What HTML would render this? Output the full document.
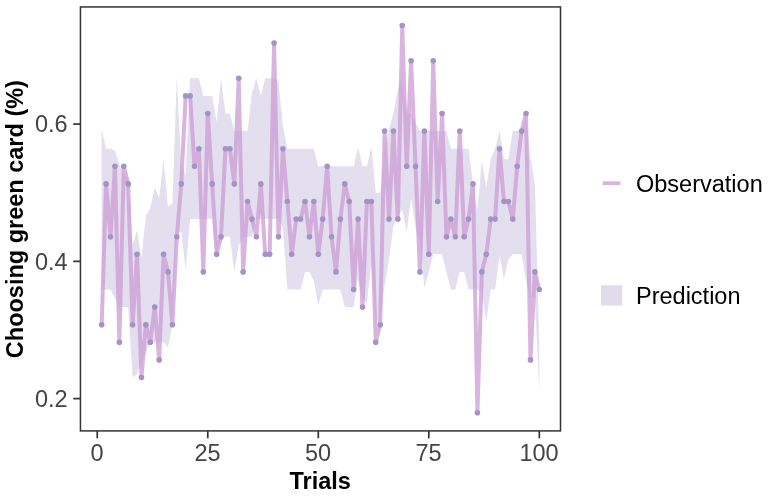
<!DOCTYPE html>
<html><head><meta charset="utf-8"><style>
html,body{margin:0;padding:0;background:#fff;}
svg{display:block;}
text{font-family:"Liberation Sans",Arial,sans-serif;}
</style></head><body>
<svg width="768" height="496" viewBox="0 0 768 496">
<rect width="768" height="496" fill="#fff"/>
<path d="M101.67,129.34 L106.09,148.70 L110.51,148.70 L114.93,150.46 L119.35,164.54 L123.77,173.34 L128.19,180.38 L132.61,245.50 L137.04,229.66 L141.46,257.82 L145.88,215.58 L150.30,208.54 L154.72,187.42 L159.14,197.98 L163.56,159.26 L167.98,206.78 L172.40,203.26 L176.82,76.54 L181.24,166.30 L185.66,175.10 L190.08,78.30 L194.50,78.30 L198.92,78.30 L203.34,95.90 L207.77,95.90 L212.19,95.90 L216.61,122.30 L221.03,78.30 L225.45,113.50 L229.87,113.50 L234.29,131.10 L238.71,131.10 L243.13,131.10 L247.55,131.10 L251.97,92.38 L256.39,78.30 L260.81,95.90 L265.23,78.30 L269.65,78.30 L274.07,78.30 L278.49,81.82 L282.92,125.82 L287.34,148.70 L291.76,148.70 L296.18,148.70 L300.60,148.70 L305.02,148.70 L309.44,148.70 L313.86,148.70 L318.28,166.30 L322.70,166.30 L327.12,166.30 L331.54,166.30 L335.96,166.30 L340.38,166.30 L344.80,166.30 L349.22,166.30 L353.64,166.30 L358.07,146.94 L362.49,166.30 L366.91,166.30 L371.33,146.94 L375.75,192.70 L380.17,192.70 L384.59,148.70 L389.01,129.34 L393.43,113.50 L397.85,88.86 L402.27,78.30 L406.69,113.50 L411.11,113.50 L415.53,122.30 L419.95,131.10 L424.37,131.10 L428.80,131.10 L433.22,131.10 L437.64,131.10 L442.06,131.10 L446.48,131.10 L450.90,148.70 L455.32,148.70 L459.74,148.70 L464.16,148.70 L468.58,148.70 L473.00,183.90 L477.42,210.30 L481.84,161.02 L486.26,187.42 L490.68,159.26 L495.10,148.70 L499.52,131.10 L503.95,159.26 L508.37,159.26 L512.79,131.10 L517.21,131.10 L521.63,131.10 L526.05,117.02 L530.47,157.50 L534.89,183.90 L539.31,342.30 L539.31,393.34 L534.89,298.30 L530.47,298.30 L526.05,280.70 L521.63,254.30 L517.21,254.30 L512.79,254.30 L508.37,259.58 L503.95,278.94 L499.52,256.06 L495.10,289.50 L490.68,289.50 L486.26,321.18 L481.84,293.02 L477.42,289.50 L473.00,289.50 L468.58,289.50 L464.16,271.90 L459.74,271.90 L455.32,289.50 L450.90,289.50 L446.48,271.90 L442.06,254.30 L437.64,254.30 L433.22,254.30 L428.80,271.90 L424.37,287.74 L419.95,243.74 L415.53,227.90 L411.11,197.98 L406.69,231.42 L402.27,210.30 L397.85,215.58 L393.43,226.14 L389.01,259.58 L384.59,285.98 L380.17,321.18 L375.75,321.18 L371.33,263.10 L366.91,303.58 L362.49,298.30 L358.07,278.94 L353.64,307.10 L349.22,307.10 L344.80,307.10 L340.38,289.50 L335.96,289.50 L331.54,289.50 L327.12,289.50 L322.70,289.50 L318.28,305.34 L313.86,280.70 L309.44,271.90 L305.02,271.90 L300.60,289.50 L296.18,289.50 L291.76,289.50 L287.34,289.50 L282.92,227.90 L278.49,219.10 L274.07,219.10 L269.65,219.10 L265.23,219.10 L260.81,219.10 L256.39,219.10 L251.97,236.70 L247.55,236.70 L243.13,236.70 L238.71,245.50 L234.29,271.90 L229.87,236.70 L225.45,236.70 L221.03,236.70 L216.61,254.30 L212.19,219.10 L207.77,219.10 L203.34,219.10 L198.92,219.10 L194.50,219.10 L190.08,219.10 L185.66,270.14 L181.24,231.42 L176.82,233.18 L172.40,324.70 L167.98,347.58 L163.56,342.30 L159.14,342.30 L154.72,342.30 L150.30,342.30 L145.88,352.86 L141.46,363.42 L137.04,373.98 L132.61,377.50 L128.19,307.10 L123.77,307.10 L119.35,307.10 L114.93,298.30 L110.51,289.50 L106.09,289.50 L101.67,289.50 Z" fill="#E3DFEF" stroke="none"/>
<path d="M101.67,324.70 L106.09,183.90 L110.51,236.70 L114.93,166.30 L119.35,342.30 L123.77,166.30 L128.19,183.90 L132.61,324.70 L137.04,254.30 L141.46,377.50 L145.88,324.70 L150.30,342.30 L154.72,307.10 L159.14,359.90 L163.56,254.30 L167.98,271.90 L172.40,324.70 L176.82,236.70 L181.24,183.90 L185.66,95.90 L190.08,95.90 L194.50,166.30 L198.92,148.70 L203.34,271.90 L207.77,113.50 L212.19,183.90 L216.61,254.30 L221.03,236.70 L225.45,148.70 L229.87,148.70 L234.29,183.90 L238.71,78.30 L243.13,271.90 L247.55,201.50 L251.97,219.10 L256.39,236.70 L260.81,183.90 L265.23,254.30 L269.65,254.30 L274.07,43.10 L278.49,236.70 L282.92,148.70 L287.34,201.50 L291.76,254.30 L296.18,219.10 L300.60,219.10 L305.02,201.50 L309.44,236.70 L313.86,201.50 L318.28,254.30 L322.70,219.10 L327.12,166.30 L331.54,236.70 L335.96,271.90 L340.38,219.10 L344.80,183.90 L349.22,201.50 L353.64,289.50 L358.07,219.10 L362.49,307.10 L366.91,201.50 L371.33,201.50 L375.75,342.30 L380.17,324.70 L384.59,131.10 L389.01,219.10 L393.43,131.10 L397.85,219.10 L402.27,25.50 L406.69,166.30 L411.11,60.70 L415.53,166.30 L419.95,271.90 L424.37,131.10 L428.80,254.30 L433.22,60.70 L437.64,201.50 L442.06,113.50 L446.48,236.70 L450.90,219.10 L455.32,236.70 L459.74,131.10 L464.16,236.70 L468.58,219.10 L473.00,183.90 L477.42,412.70 L481.84,271.90 L486.26,254.30 L490.68,219.10 L495.10,219.10 L499.52,148.70 L503.95,201.50 L508.37,201.50 L512.79,219.10 L517.21,166.30 L521.63,131.10 L526.05,113.50 L530.47,359.90 L534.89,271.90 L539.31,289.50" fill="none" stroke="#CC9BD3" stroke-opacity="0.75" stroke-width="4" stroke-linejoin="round" stroke-linecap="butt"/>
<g fill="#A493C5"><circle cx="101.67" cy="324.70" r="2.8"/><circle cx="106.09" cy="183.90" r="2.8"/><circle cx="110.51" cy="236.70" r="2.8"/><circle cx="114.93" cy="166.30" r="2.8"/><circle cx="119.35" cy="342.30" r="2.8"/><circle cx="123.77" cy="166.30" r="2.8"/><circle cx="128.19" cy="183.90" r="2.8"/><circle cx="132.61" cy="324.70" r="2.8"/><circle cx="137.04" cy="254.30" r="2.8"/><circle cx="141.46" cy="377.50" r="2.8"/><circle cx="145.88" cy="324.70" r="2.8"/><circle cx="150.30" cy="342.30" r="2.8"/><circle cx="154.72" cy="307.10" r="2.8"/><circle cx="159.14" cy="359.90" r="2.8"/><circle cx="163.56" cy="254.30" r="2.8"/><circle cx="167.98" cy="271.90" r="2.8"/><circle cx="172.40" cy="324.70" r="2.8"/><circle cx="176.82" cy="236.70" r="2.8"/><circle cx="181.24" cy="183.90" r="2.8"/><circle cx="185.66" cy="95.90" r="2.8"/><circle cx="190.08" cy="95.90" r="2.8"/><circle cx="194.50" cy="166.30" r="2.8"/><circle cx="198.92" cy="148.70" r="2.8"/><circle cx="203.34" cy="271.90" r="2.8"/><circle cx="207.77" cy="113.50" r="2.8"/><circle cx="212.19" cy="183.90" r="2.8"/><circle cx="216.61" cy="254.30" r="2.8"/><circle cx="221.03" cy="236.70" r="2.8"/><circle cx="225.45" cy="148.70" r="2.8"/><circle cx="229.87" cy="148.70" r="2.8"/><circle cx="234.29" cy="183.90" r="2.8"/><circle cx="238.71" cy="78.30" r="2.8"/><circle cx="243.13" cy="271.90" r="2.8"/><circle cx="247.55" cy="201.50" r="2.8"/><circle cx="251.97" cy="219.10" r="2.8"/><circle cx="256.39" cy="236.70" r="2.8"/><circle cx="260.81" cy="183.90" r="2.8"/><circle cx="265.23" cy="254.30" r="2.8"/><circle cx="269.65" cy="254.30" r="2.8"/><circle cx="274.07" cy="43.10" r="2.8"/><circle cx="278.49" cy="236.70" r="2.8"/><circle cx="282.92" cy="148.70" r="2.8"/><circle cx="287.34" cy="201.50" r="2.8"/><circle cx="291.76" cy="254.30" r="2.8"/><circle cx="296.18" cy="219.10" r="2.8"/><circle cx="300.60" cy="219.10" r="2.8"/><circle cx="305.02" cy="201.50" r="2.8"/><circle cx="309.44" cy="236.70" r="2.8"/><circle cx="313.86" cy="201.50" r="2.8"/><circle cx="318.28" cy="254.30" r="2.8"/><circle cx="322.70" cy="219.10" r="2.8"/><circle cx="327.12" cy="166.30" r="2.8"/><circle cx="331.54" cy="236.70" r="2.8"/><circle cx="335.96" cy="271.90" r="2.8"/><circle cx="340.38" cy="219.10" r="2.8"/><circle cx="344.80" cy="183.90" r="2.8"/><circle cx="349.22" cy="201.50" r="2.8"/><circle cx="353.64" cy="289.50" r="2.8"/><circle cx="358.07" cy="219.10" r="2.8"/><circle cx="362.49" cy="307.10" r="2.8"/><circle cx="366.91" cy="201.50" r="2.8"/><circle cx="371.33" cy="201.50" r="2.8"/><circle cx="375.75" cy="342.30" r="2.8"/><circle cx="380.17" cy="324.70" r="2.8"/><circle cx="384.59" cy="131.10" r="2.8"/><circle cx="389.01" cy="219.10" r="2.8"/><circle cx="393.43" cy="131.10" r="2.8"/><circle cx="397.85" cy="219.10" r="2.8"/><circle cx="402.27" cy="25.50" r="2.8"/><circle cx="406.69" cy="166.30" r="2.8"/><circle cx="411.11" cy="60.70" r="2.8"/><circle cx="415.53" cy="166.30" r="2.8"/><circle cx="419.95" cy="271.90" r="2.8"/><circle cx="424.37" cy="131.10" r="2.8"/><circle cx="428.80" cy="254.30" r="2.8"/><circle cx="433.22" cy="60.70" r="2.8"/><circle cx="437.64" cy="201.50" r="2.8"/><circle cx="442.06" cy="113.50" r="2.8"/><circle cx="446.48" cy="236.70" r="2.8"/><circle cx="450.90" cy="219.10" r="2.8"/><circle cx="455.32" cy="236.70" r="2.8"/><circle cx="459.74" cy="131.10" r="2.8"/><circle cx="464.16" cy="236.70" r="2.8"/><circle cx="468.58" cy="219.10" r="2.8"/><circle cx="473.00" cy="183.90" r="2.8"/><circle cx="477.42" cy="412.70" r="2.8"/><circle cx="481.84" cy="271.90" r="2.8"/><circle cx="486.26" cy="254.30" r="2.8"/><circle cx="490.68" cy="219.10" r="2.8"/><circle cx="495.10" cy="219.10" r="2.8"/><circle cx="499.52" cy="148.70" r="2.8"/><circle cx="503.95" cy="201.50" r="2.8"/><circle cx="508.37" cy="201.50" r="2.8"/><circle cx="512.79" cy="219.10" r="2.8"/><circle cx="517.21" cy="166.30" r="2.8"/><circle cx="521.63" cy="131.10" r="2.8"/><circle cx="526.05" cy="113.50" r="2.8"/><circle cx="530.47" cy="359.90" r="2.8"/><circle cx="534.89" cy="271.90" r="2.8"/><circle cx="539.31" cy="289.50" r="2.8"/></g>
<rect x="80.45" y="6.95" width="480.05" height="423.95" fill="none" stroke="#333333" stroke-width="1.5"/>
<g stroke="#333333" stroke-width="1.7">
<line x1="97.25" y1="431" x2="97.25" y2="438.3"/>
<line x1="207.77" y1="431" x2="207.77" y2="438.3"/>
<line x1="318.28" y1="431" x2="318.28" y2="438.3"/>
<line x1="428.80" y1="431" x2="428.80" y2="438.3"/>
<line x1="539.31" y1="431" x2="539.31" y2="438.3"/>
<line x1="73.2" y1="124.07" x2="80.4" y2="124.07"/>
<line x1="73.2" y1="261.36" x2="80.4" y2="261.36"/>
<line x1="73.2" y1="398.62" x2="80.4" y2="398.62"/>
</g>
<g fill="#444444" font-size="23.5" text-anchor="middle">
<text x="96.95" y="460.5">0</text>
<text x="207.47" y="460.5">25</text>
<text x="317.98" y="460.5">50</text>
<text x="428.50" y="460.5">75</text>
<text x="539.01" y="460.5">100</text>
</g>
<g fill="#444444" font-size="23.5" text-anchor="end">
<text x="67.6" y="132.4">0.6</text>
<text x="67.6" y="269.7">0.4</text>
<text x="67.6" y="407.0">0.2</text>
</g>
<text x="320.2" y="489" font-size="23.5" font-weight="bold" text-anchor="middle" fill="#000">Trials</text>
<text transform="translate(22.9,219.1) rotate(-90)" font-size="23.5" font-weight="bold" text-anchor="middle" fill="#000">Choosing green card (%)</text>
<line x1="602.8" y1="183.2" x2="620.5" y2="183.2" stroke="#CC9BD3" stroke-opacity="0.75" stroke-width="3.8"/>
<text x="636" y="191.5" font-size="23.5" fill="#000">Observation</text>
<rect x="601" y="285.2" width="21.3" height="20.3" fill="#E0DCEC"/>
<text x="636" y="303.8" font-size="23.5" fill="#000">Prediction</text>
</svg>
</body></html>
